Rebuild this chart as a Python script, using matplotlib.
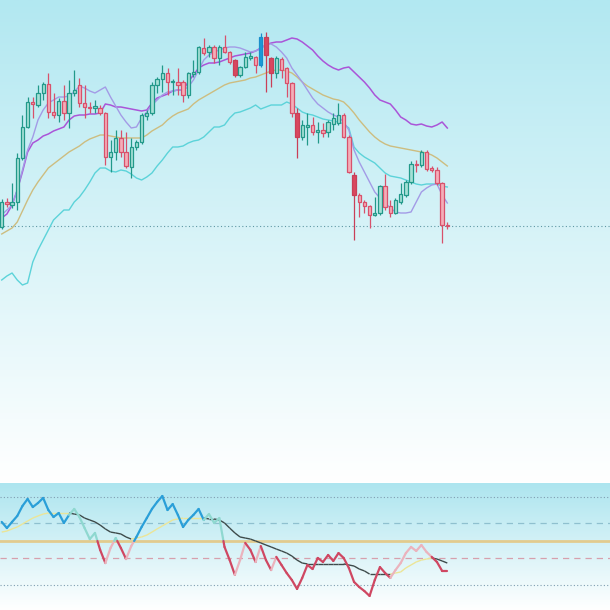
import numpy as np
import matplotlib
matplotlib.use("Agg")
import matplotlib.pyplot as plt
from matplotlib.collections import LineCollection
from matplotlib.colors import LinearSegmentedColormap

# candles
opens = [373, 398, 395, 398, 442, 473, 498, 495, 507, 516,
         488, 485, 499, 487, 507, 515, 497, 493, 492, 492,
         487, 443, 448, 462, 448, 433, 453, 458, 484, 487,
         515, 521, 527, 518, 518, 518, 505, 526, 528, 552,
         548, 553, 542, 553, 548, 540, 525, 533, 542, 543,
         535, 563, 542, 527, 541, 532, 517, 487, 463, 473,
         475, 468, 470, 468, 476, 477, 485, 463, 425, 405,
         398, 394, 385, 387, 414, 394, 387, 398, 405, 418,
         436, 435, 448, 432, 430, 417, 375]
highs = [401, 402, 417, 447, 485, 503, 503, 515, 518, 527,
         507, 502, 515, 520, 530, 522, 515, 498, 500, 495,
         488, 460, 470, 470, 468, 462, 460, 487, 490, 518,
         523, 535, 532, 521, 532, 520, 528, 540, 554, 562,
         555, 555, 555, 565, 549, 541, 534, 548, 548, 544,
         567, 568, 543, 544, 543, 533, 518, 492, 480, 487,
         483, 478, 477, 480, 487, 497, 487, 465, 428, 407,
         400, 395, 403, 415, 426, 400, 402, 417, 420, 439,
         440, 450, 450, 434, 433, 418, 378]
lows = [371, 393, 392, 390, 440, 472, 482, 493, 500, 482,
        482, 478, 480, 472, 504, 493, 482, 487, 487, 485,
        435, 428, 440, 443, 432, 422, 450, 456, 480, 485,
        507, 508, 505, 505, 505, 498, 502, 523, 526, 545,
        543, 537, 535, 547, 536, 523, 523, 532, 540, 527,
        533, 508, 513, 522, 522, 503, 483, 442, 460, 455,
        465, 457, 463, 463, 470, 475, 462, 427, 360, 383,
        387, 372, 384, 385, 390, 383, 386, 396, 403, 416,
        428, 433, 429, 428, 415, 357, 371]
closes = [398, 396, 398, 442, 473, 498, 496, 507, 516, 488,
          485, 499, 487, 507, 510, 497, 493, 492, 494, 487,
          443, 448, 462, 448, 434, 453, 458, 485, 487, 515,
          521, 527, 518, 519, 515, 505, 527, 528, 553, 547,
          553, 542, 553, 548, 538, 525, 533, 543, 544, 535,
          563, 545, 527, 542, 530, 517, 487, 463, 475, 475,
          468, 470, 467, 478, 482, 485, 463, 428, 405, 398,
          394, 385, 387, 414, 393, 387, 400, 406, 418, 436,
          435, 448, 431, 430, 417, 375, 374]
heavy = [45, 50, 51, 52, 57, 68]

# overlay lines
fast_line = [385, 390, 395, 410, 430, 450, 463, 480, 490, 497,
             500, 503, 503, 504, 508, 514, 512, 509, 507, 510,
             513, 503, 494, 485, 478, 472, 473, 482, 488, 495,
             500, 505, 508, 509, 510, 510, 513, 520, 530, 540,
             545, 548, 550, 552, 553, 553, 552, 550, 548, 549,
             551, 556, 556, 553, 548, 542, 532, 525, 518, 510,
             502, 496, 492, 488, 485, 483, 478, 470, 450, 438,
             428, 418, 408, 402, 397, 392, 388, 387, 387, 388,
             398, 408, 412, 415, 416, 405, 397]
upper_band = [382, 386, 395, 410, 428, 448, 457, 460, 464, 466,
              469, 471, 473, 480, 484, 485, 485, 486, 486, 487,
              496, 495, 493, 493, 492, 491, 490, 489, 490, 497,
              502, 504, 506, 509, 510, 510, 518, 525, 532, 535,
              537, 537, 538, 540, 542, 544, 545, 546, 547, 549,
              552, 555, 557, 558, 558, 560, 562, 561, 558, 554,
              550, 544, 539, 535, 532, 530, 532, 533, 528, 523,
              518, 512, 505, 500, 498, 496, 490, 483, 480, 476,
              475, 476, 474, 473, 475, 478, 472]
slow_line = [366, 369, 372, 378, 389, 400, 410, 418, 425, 432,
             436, 440, 444, 448, 451, 454, 458, 461, 463, 465,
             465, 464, 463, 462, 462, 462, 462, 462, 465, 469,
             472, 475, 480, 484, 487, 489, 491, 496, 500, 503,
             506, 509, 512, 515, 517, 518, 519, 520, 522, 523,
             525, 527, 529, 530, 530, 529, 527, 523, 518, 514,
             511, 508, 505, 503, 501, 500, 498, 493, 487, 480,
             474, 468, 463, 459, 456, 454, 453, 452, 451, 450,
             449, 448, 447, 445, 442, 438, 434]
lower_band = [320, 324, 327, 320, 315, 317, 338, 350, 360, 370,
              380, 385, 390, 390, 398, 403, 410, 418, 427, 432,
              432, 429, 428, 430, 429, 426, 422, 420, 423, 427,
              434, 440, 447, 453, 453, 454, 457, 459, 460, 463,
              468, 473, 473, 475, 482, 487, 488, 490, 492, 495,
              491, 493, 495, 495, 495, 498, 496, 492, 488, 486,
              485, 483, 481, 480, 479, 478, 476, 472, 453, 447,
              443, 440, 437, 432, 427, 424, 423, 422, 420, 418,
              416, 415, 416, 416, 416, 414, 413]

# oscillator
osc = [60.9, 57.4, 60.9, 64.3, 70.0, 74.0, 69.4, 71.7, 74.6, 67.7,
       63.7, 66.0, 60.3, 64.9, 68.3, 63.7, 57.4, 51.1, 54.6, 44.9,
       37.4, 46.0, 51.7, 46.0, 39.7, 47.1, 52.3, 58.0, 63.1, 68.3,
       72.3, 75.7, 67.7, 71.1, 64.9, 58.0, 62.0, 64.9, 68.3, 62.0,
       65.4, 60.3, 63.1, 46.6, 39.1, 30.6, 39.1, 48.9, 44.9, 38.0,
       47.1, 39.1, 33.4, 40.9, 36.3, 31.7, 27.7, 22.6, 28.9, 36.3,
       34.0, 40.3, 38.0, 42.0, 38.6, 43.1, 40.3, 34.6, 26.6, 23.7,
       21.4, 18.6, 27.7, 35.1, 31.7, 28.9, 33.4, 37.4, 43.1, 46.6,
       44.3, 47.7, 43.7, 40.9, 38.0, 32.9, 32.9]
osc_ma = [55.1, 55.7, 56.9, 58.0, 59.7, 61.4, 63.1, 64.3, 65.4, 66.0,
          66.0, 66.0, 66.0, 66.0, 65.4, 64.9, 63.1, 62.0, 60.9, 59.1,
          56.9, 55.1, 54.6, 54.0, 52.3, 51.1, 51.7, 52.3, 53.4, 55.1,
          56.9, 58.6, 60.3, 62.0, 62.6, 63.1, 63.1, 63.1, 63.1, 63.1,
          62.6, 62.6, 62.0, 60.3, 57.4, 54.6, 52.3, 51.7, 51.1, 50.0,
          48.9, 47.7, 46.6, 45.4, 44.3, 43.1, 41.4, 39.1, 37.4, 36.9,
          36.9, 36.9, 36.9, 36.9, 36.9, 36.9, 36.9, 36.3, 35.7, 34.0,
          32.9, 31.1, 31.1, 31.1, 31.1, 31.1, 31.7, 32.3, 34.6, 36.3,
          38.0, 39.1, 39.7, 40.3, 39.7, 38.6, 37.4]
osc_levels = [25, 40, 50, 60, 75]

n = len(closes)
x = np.arange(n)
XLIM = (-0.33, 117.4)
W, H = 610, 610
split = 127

fig = plt.figure(figsize=(W / 100, H / 100), dpi=100)
ax = fig.add_axes([0, split / H, 1, 1 - split / H])
oax = fig.add_axes([0, 0, 1, split / H])


def backdrop(a, ylim, top, bottom):
    cmap = LinearSegmentedColormap.from_list("bg", [top, bottom])
    grad = np.linspace(0, 1, 256).reshape(-1, 1)
    a.imshow(grad, cmap=cmap, aspect="auto", origin="upper",
             extent=(XLIM[0], XLIM[1], ylim[0], ylim[1]), zorder=0)
    a.set_xlim(*XLIM)
    a.set_ylim(*ylim)
    a.axis("off")


backdrop(ax, (117, 600), "#b2e8f1", "#ffffff")
backdrop(oax, (10.57, 83.14), "#ade5ef", "#ffffff")

# ---- price panel
ax.plot(x, lower_band, color="#5cd3d9", lw=1.0, zorder=2)
ax.plot(x, slow_line, color="#cdbd80", lw=1.0, zorder=2)
ax.plot(x, upper_band, color="#aa55d8", lw=1.1, zorder=2)
ax.plot(x, fast_line, color="#a39be6", lw=1.0, zorder=2)
ax.axhline(closes[-1], color="#5f98a4", lw=0.8, ls=(0, (1, 2.2)), zorder=1)

o = np.array(opens, float)
c = np.array(closes, float)
up = c >= o
big = np.isin(x, heavy)
face = np.where(up, "#a6e0d6", "#f4adb8")
edge = np.where(up, "#22998a", "#d8516b")
face[big & up] = "#1c9bd8"
edge[big & up] = "#1a8ecb"
face[big & ~up] = "#d9485f"
edge[big & ~up] = "#c93f58"

ax.vlines(x, lows, highs, colors=edge, lw=0.9, zorder=3)
ax.bar(x, np.maximum(np.abs(c - o), 1.0), bottom=np.minimum(o, c), width=0.64,
       color=face, edgecolor=edge, linewidth=0.9, zorder=4)

# ---- oscillator panel
oax.axhline(osc_levels[0], color="#7f9db1", lw=0.8, ls=(0, (1, 2)))
oax.axhline(osc_levels[4], color="#7f9db1", lw=0.8, ls=(0, (1, 2)))
oax.axhline(osc_levels[1], color="#d6a0ad", lw=0.9, ls=(0, (5, 4)))
oax.axhline(osc_levels[3], color="#8fc0cf", lw=0.9, ls=(0, (5, 4)))
oax.axhline(osc_levels[2], color="#e2cb8e", lw=2.0)

# MA trend state per segment (rising -> bullish, flat keeps the last state)
trend = []
state = True
for i in range(n - 1):
    d = osc_ma[i + 1] - osc_ma[i]
    if d > 0:
        state = True
    elif d < 0:
        state = False
    trend.append(state)


def seg_colour(i, lo, hi_side):
    if hi_side:
        return "#2a9fd8" if trend[i] else "#8fd8d0"
    if trend[i]:
        return "#ebb3bd"
    if osc_ma[i] < osc_levels[1] or osc[i + 1] < osc[i]:
        return "#cf4762"
    return "#ebb3bd"


segs, cols = [], []
for i in range(n - 1):
    pts = [(i, osc[i])]
    if (osc[i] - 50) * (osc[i + 1] - 50) < 0:
        t = (50 - osc[i]) / (osc[i + 1] - osc[i])
        pts.append((i + t, 50))
    pts.append((i + 1, osc[i + 1]))
    for a, b in zip(pts[:-1], pts[1:]):
        cols.append(seg_colour(i, a, (a[1] + b[1]) / 2 >= 50))
        segs.append([a, b])

ma_segs = [[(i, osc_ma[i]), (i + 1, osc_ma[i + 1])] for i in range(n - 1)]
ma_cols = ["#ece596" if t else "#3e4b4b" for t in trend]
oax.add_collection(LineCollection(ma_segs, colors=ma_cols, lw=1.0, zorder=3))
oax.add_collection(LineCollection(segs, colors=cols, lw=1.6, zorder=4,
                                  capstyle="round", joinstyle="round"))

fig.savefig("out.png", dpi=100)
